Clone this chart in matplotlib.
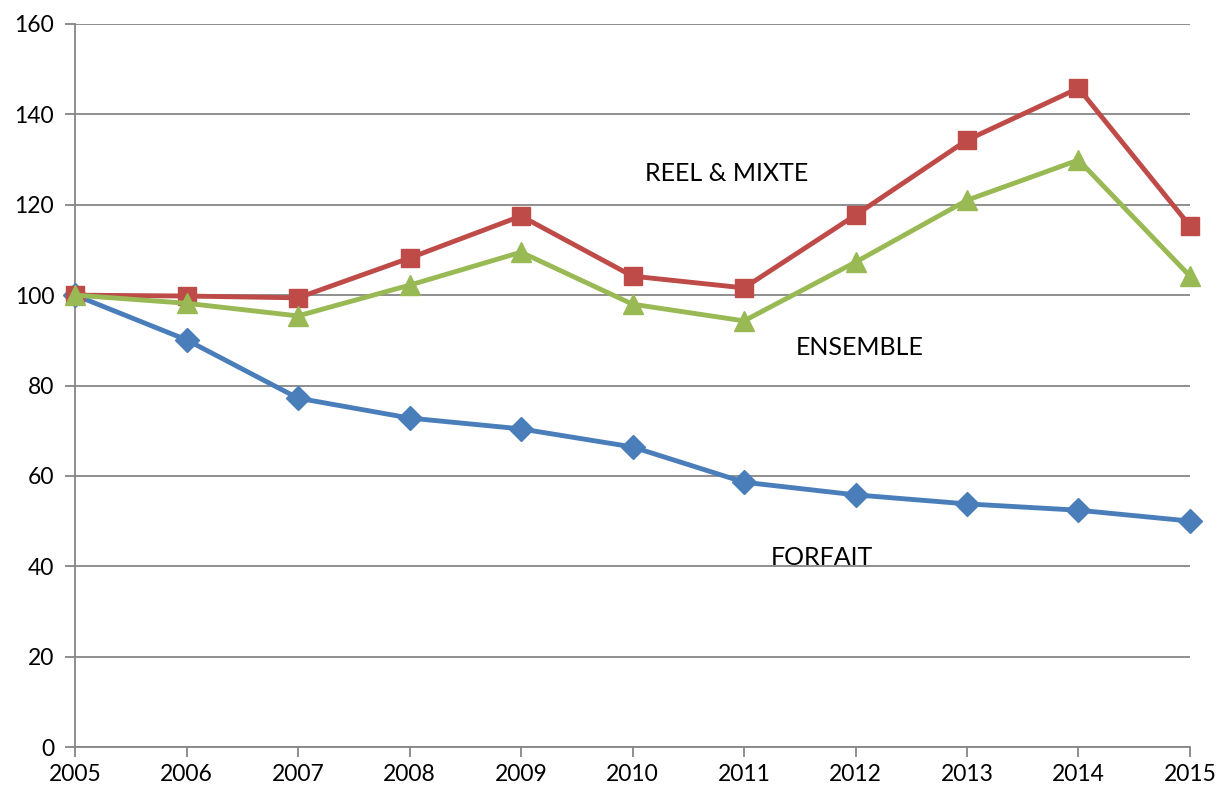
import matplotlib
matplotlib.use("Agg")
import matplotlib.pyplot as plt

years = [2005, 2006, 2007, 2008, 2009, 2010, 2011, 2012, 2013, 2014, 2015]
forfait = [100, 90.1, 77.2, 72.8, 70.4, 66.4, 58.6, 55.8, 53.8, 52.4, 50.0]
reel_mixte = [100, 99.8, 99.4, 108.2, 117.5, 104.2, 101.6, 117.7, 134.3, 145.8, 115.3]
ensemble = [100, 98.2, 95.4, 102.2, 109.5, 98.0, 94.3, 107.3, 121.0, 129.9, 104.2]
y_ticks = [0, 20, 40, 60, 80, 100, 120, 140, 160]

plt.rcParams['font.family'] = ['Lato', 'DejaVu Sans']

fig = plt.figure(figsize=(12.2, 7.92), dpi=100)
ax = fig.add_axes([0.0615, 0.0568, 0.9139, 0.9129])

grid_col = '#868686'
ax.grid(axis='y', color=grid_col, linewidth=1.3)
ax.set_axisbelow(True)

ax.plot(years, forfait, color='#4A7EBB', lw=3.5, marker='D', ms=12, zorder=3)
ax.plot(years, reel_mixte, color='#BE4B48', lw=3.5, marker='s', ms=13, zorder=4)
ax.plot(years, ensemble, color='#98B954', lw=3.5, marker='^', ms=14, zorder=5)

ax.text(2010.84, 127, 'REEL & MIXTE', fontsize=18, ha='center', va='center')
ax.text(2012.04, 88.5, 'ENSEMBLE', fontsize=18, ha='center', va='center')
ax.text(2011.70, 42.0, 'FORFAIT', fontsize=18, ha='center', va='center')

ax.set_xlim(2005, 2015)
ax.set_ylim(0, 160)
ax.set_xticks(years)
ax.set_yticks(y_ticks)
ax.tick_params(axis='both', labelsize=16.5, color=grid_col, length=7, width=1.3, direction='out')
ax.tick_params(axis='y', pad=8)
ax.tick_params(axis='x', pad=5)

for side in ['top', 'right']:
    ax.spines[side].set_visible(False)
for side in ['left', 'bottom']:
    ax.spines[side].set_color(grid_col)
    ax.spines[side].set_linewidth(1.3)

for ln in ax.lines:
    ln.set_clip_on(False)

fig.savefig('out.png', dpi=100)
